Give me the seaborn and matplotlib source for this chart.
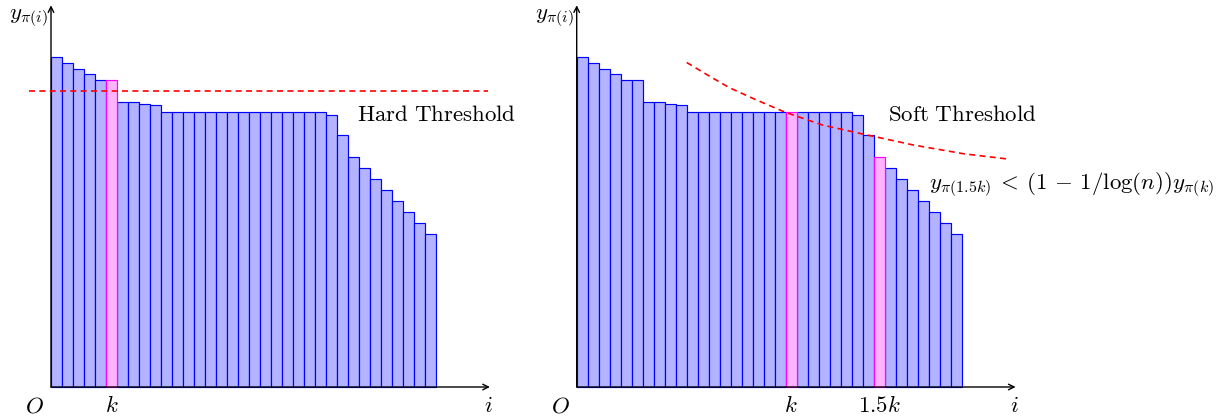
import numpy as np
import pandas as pd
import seaborn as sns
import matplotlib.pyplot as plt

# bar heights y_pi(i), i = 1..35 (same data in both panels)
heights = [30, 29.45, 28.95, 28.45, 27.95, 27.95, 25.95, 25.95, 25.75, 25.65,
           25, 25, 25, 25, 25, 25, 25, 25, 25, 25, 25, 25, 25, 25, 25,
           24.75, 22.95, 20.95, 19.95, 18.95, 17.95, 16.95, 15.95, 14.95, 13.95]
idx = list(range(1, len(heights) + 1))

hard_k = [6]            # highlighted bar, left panel
soft_k = [20, 28]       # highlighted bars (k, 1.5k), right panel
hard_level = 26.95

# soft threshold curve
soft_x = [10.5, 12.5, 14.4, 16.6, 19.4, 22.9, 26.5, 31.1, 35.7, 39.9]
soft_y = [29.5, 28.3, 27.2, 26.2, 25.0, 23.8, 23.0, 22.0, 21.2, 20.7]

df = pd.DataFrame({"i": idx, "y": heights})

BLUE_FILL = "#b3b3ff"
PINK_FILL = "#ffb3ff"
FS = 16.5

plt.rcParams["mathtext.fontset"] = "cm"

fig = plt.figure(figsize=(12.22, 4.18), dpi=100)
W, H = 1222, 418
U = 11.0  # px per data unit
X0 = 0.5  # axis origin in i units


def make_ax(origin_px):
    left = origin_px - 4 * U
    ax = fig.add_axes([left / W, (H - 387 - 2.5 * U) / H, 46 * U / W, 37.5 * U / H])
    return ax


def draw_bars(ax, highlight):
    sns.barplot(data=df, x="i", y="y", native_scale=True, width=1,
                color=BLUE_FILL, saturation=1, edgecolor="blue",
                linewidth=0.85, ax=ax)
    for n, p in zip(idx, ax.patches):
        p.set_facecolor(BLUE_FILL)
        if n in highlight:
            p.set_facecolor(PINK_FILL)
            p.set_edgecolor("magenta")
            p.set_zorder(3)
    ax.set_xlim(X0 - 4, X0 + 42)
    ax.set_ylim(-2.5, 35)
    ax.axis("off")


def draw_axes(ax):
    arrow = dict(arrowstyle="->", color="black", lw=1.0, shrinkA=0, shrinkB=0)
    ax.annotate("", xy=(X0, 34.7), xytext=(X0, 0), arrowprops=arrow, zorder=5)
    ax.annotate("", xy=(X0 + 39.9, 0), xytext=(X0, 0), arrowprops=arrow, zorder=5)
    ax.text(X0 - 0.3, 33.6, r"$y_{\pi(i)}$", ha="right", va="center", fontsize=FS)
    ax.text(X0 - 1.5, -1.7, r"$O$", ha="center", va="center", fontsize=FS)
    ax.text(X0 + 39.8, -1.7, r"$i$", ha="center", va="center", fontsize=FS)


# left panel: hard threshold
ax1 = make_ax(51)
draw_bars(ax1, hard_k)
draw_axes(ax1)
sns.lineplot(x=[X0 - 2, X0 + 39.7], y=[hard_level, hard_level], color="red",
             lw=1.2, dashes=(3.6, 2.6), ax=ax1, zorder=6)
ax1.text(hard_k[0], -1.7, r"$k$", ha="center", va="center", fontsize=FS)
ax1.text(X0 + 27.8, 24.2, r"$\mathrm{Hard\ Threshold}$", ha="left",
         va="baseline", fontsize=FS, clip_on=False)

# right panel: soft threshold
ax2 = make_ax(576.7)
draw_bars(ax2, soft_k)
draw_axes(ax2)
sns.lineplot(x=soft_x, y=soft_y, color="red", lw=1.2, dashes=(3.6, 2.6),
             ax=ax2, zorder=6, sort=False)
ax2.text(soft_k[0], -1.7, r"$k$", ha="center", va="center", fontsize=FS)
ax2.text(soft_k[1], -1.7, r"$1.5k$", ha="center", va="center", fontsize=FS)
ax2.text(X0 + 28.3, 24.2, r"$\mathrm{Soft\ Threshold}$", ha="left",
         va="baseline", fontsize=FS, clip_on=False)
ax2.text(X0 + 32.0, 18.4,
         r"$y_{\pi(1.5k)}\:<\:(1\,-\,1/\log(n))y_{\pi(k)}$",
         ha="left", va="center", fontsize=FS, clip_on=False)

fig.savefig("out.png", dpi=100)
